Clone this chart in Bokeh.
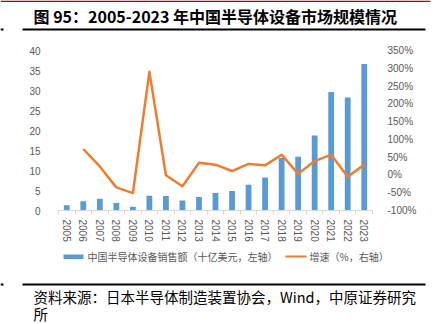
from bokeh.plotting import figure
from bokeh.models import Range1d, LinearAxis, FixedTicker, PrintfTickFormatter
from bokeh.core.properties import value
from bokeh.embed import file_html
from bokeh.resources import INLINE

years = ["2005", "2006", "2007", "2008", "2009", "2010", "2011", "2012", "2013", "2014",
         "2015", "2016", "2017", "2018", "2019", "2020", "2021", "2022", "2023"]
sales = [1.33, 2.30, 2.92, 1.90, 0.94, 3.68, 3.65, 2.49, 3.37, 4.37,
         4.90, 6.46, 8.23, 13.11, 13.45, 18.72, 29.62, 28.27, 36.60]
growth = [float("nan"), 73, 24, -35, -51, 290, -1, -32, 34, 29,
          11, 31, 27, 57, 3, 39, 57, -5, 29]

title_text = "图 95：2005-2023 年中国半导体设备市场规模情况"
legend_bar = "中国半导体设备销售额（十亿美元，左轴）"
legend_line = "增速（%，右轴）"
source_1 = "资料来源：日本半导体制造装置协会，Wind，中原证券研究"
source_2 = "所"

xs = list(range(len(years)))

CJK = "Noto Sans CJK SC"
NUM = "Liberation Sans"
GRAY = "#595959"
BLUE = "#5B9BD5"
ORANGE = "#ED7D31"
W = 436


def canvas_fig(top, bottom):
    """A figure whose frame is the whole canvas, in page pixel coordinates."""
    f = figure(width=W, height=bottom - top, output_backend="svg", toolbar_location=None,
               x_range=Range1d(0, W), y_range=Range1d(bottom, top),
               min_border=0, x_axis_location=None, y_axis_location=None)
    f.outline_line_color = None
    f.grid.visible = False
    f.background_fill_color = "white"
    f.border_fill_color = "white"
    return f


# ---------- header ----------
head = canvas_fig(0, 40)
head.quad(left=[0, 22, 0], right=[430, 425, 3], top=[0, 28, 28], bottom=[1.5, 30, 30],
          fill_color=["#A50021", "#000000", "#000000"], line_color=None)
head.text(x=[33], y=[15], text=[title_text], text_font=value(CJK), text_font_size="16px",
          text_font_style="bold", text_color="#000000", text_baseline="middle",
          text_align="left")

# ---------- main chart ----------
p = figure(width=W, height=204, output_backend="svg", toolbar_location=None,
           x_range=Range1d(-0.5, len(years) - 0.5), y_range=Range1d(0, 40),
           min_border_left=58, min_border_right=64, min_border_top=10, min_border_bottom=33,
           y_axis_location=None, x_axis_location=None)
p.outline_line_color = None
p.grid.visible = False
p.background_fill_color = "white"
p.border_fill_color = "white"
p.extra_y_ranges = {"pct": Range1d(-100, 350)}

xaxis = LinearAxis(ticker=FixedTicker(ticks=xs,
                                      minor_ticks=[i - 0.5 for i in range(len(years) + 1)]))
xaxis.major_label_overrides = {i: y for i, y in enumerate(years)}
xaxis.major_label_orientation = "vertical"
xaxis.major_tick_out = 0
xaxis.major_tick_in = 0
xaxis.minor_tick_out = 4
xaxis.minor_tick_in = 0
xaxis.minor_tick_line_color = "#D9D9D9"
xaxis.axis_line_color = "#D9D9D9"
xaxis.major_label_standoff = 5
xaxis.major_label_text_font = NUM
xaxis.major_label_text_font_size = "10px"
xaxis.major_label_text_color = GRAY
p.add_layout(xaxis, "below")

yaxis = LinearAxis(ticker=FixedTicker(ticks=list(range(0, 41, 5))))
yaxis.axis_line_color = None
yaxis.major_tick_line_color = None
yaxis.minor_tick_line_color = None
yaxis.major_label_standoff = 12
yaxis.major_label_text_font = NUM
yaxis.major_label_text_font_size = "10px"
yaxis.major_label_text_color = GRAY
p.add_layout(yaxis, "left")

raxis = LinearAxis(y_range_name="pct", ticker=FixedTicker(ticks=list(range(-100, 351, 50))),
                   formatter=PrintfTickFormatter(format="%d%%"))
raxis.axis_line_color = None
raxis.major_tick_line_color = None
raxis.minor_tick_line_color = None
raxis.major_label_standoff = 9
raxis.major_label_text_font = NUM
raxis.major_label_text_font_size = "10px"
raxis.major_label_text_color = GRAY
p.add_layout(raxis, "right")

p.vbar(x=xs, top=sales, width=0.35, bottom=0, fill_color=BLUE, line_color=None)
p.line(x=xs, y=growth, y_range_name="pct", line_color=ORANGE, line_width=2.5,
       line_join="round")

# ---------- footer (legend + source) ----------
foot = canvas_fig(244, 324)
foot.quad(left=[63, 285, 22, 0], right=[83, 306, 425, 3], top=[254, 255, 283, 283],
          bottom=[258.5, 257, 285, 285],
          fill_color=[BLUE, ORANGE, "#000000", "#000000"], line_color=None)
foot.text(x=[87, 309], y=[256, 256], text=[legend_bar, legend_line], text_font=value(CJK),
          text_font_size="10px", text_color=GRAY, text_baseline="middle", text_align="left")
foot.text(x=[33, 33], y=[296, 313], text=[source_1, source_2], text_font=value(CJK),
          text_font_size="14.5px", text_color="#000000", text_baseline="middle",
          text_align="left")

# separate roots so the figures' frames are not aligned to each other
open("out.html", "w").write(file_html([head, p, foot], INLINE))
